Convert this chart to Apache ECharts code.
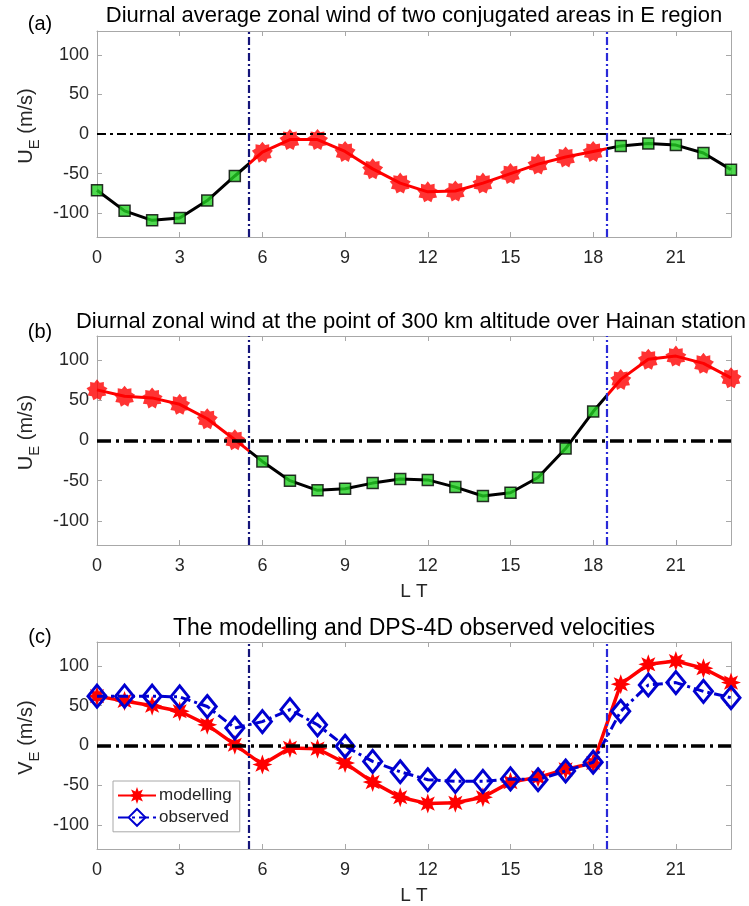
<!DOCTYPE html>
<html><head><meta charset="utf-8">
<script src="https://cdn.jsdelivr.net/npm/echarts@6/dist/echarts.min.js"></script>
<style>html,body{margin:0;padding:0;background:#fff}#c{width:749px;height:906px}</style>
</head><body><div id="c"></div>
<script>
// ---------------- data ----------------
const hours = [0,1,2,3,4,5,6,7,8,9,10,11,12,13,14,15,16,17,18,19,20,21,22,23];
const xTickLabels = [0,3,6,9,12,15,18,21];
const yTickLabels = [-100,-50,0,50,100];
const panelA = [-71,-97,-109,-106,-84,-53,-23,-7,-7,-22,-44,-62,-73,-72,-62,-50,-38,-29,-22,-15,-12,-14,-24,-45];
const panelB = [63,55,53,45,27,1,-26,-50,-62,-60,-53,-48,-49,-58,-69,-65,-46,-10,36,76,101,105,96,78];
const modelling = [62,56,50,43,26,1,-24,-3,-4,-22,-46,-65,-73,-72,-65,-46,-40,-30,-22,77,102,106,97,79];
const observed = [62,62,62,61,49,22,30,45,26,-1,-20,-33,-43,-45,-45,-42,-43,-32,-21,43,76,79,68,60];
const boundaries = [5.5, 18.5];
const titles = [
  'Diurnal average zonal wind of two conjugated areas in E region',
  'Diurnal zonal wind at the point of 300 km altitude over Hainan station',
  'The modelling and DPS-4D observed velocities'
];
const panelTags = ['(a)','(b)','(c)'];
const seriesNames = ['modelling','observed'];

// ---------------- styling ----------------
const FONT = "'Liberation Sans', Arial, Helvetica, sans-serif";
const TXT = '#262626';
const BOX = '#a8a8a8';
const RED = '#ff0000';
const GREEN = '#22d022';
const BLUE = '#0000d0';

function starPath(n, inner) {
  let d = '';
  for (let k = 0; k < 2 * n; k++) {
    const r = (k % 2) ? inner : 1;
    const a = k * Math.PI / n - Math.PI / 2;
    d += (k ? 'L' : 'M') + (r * Math.cos(a)).toFixed(3) + ' ' + (r * Math.sin(a)).toFixed(3) + ' ';
  }
  return 'path://' + d + 'Z';
}
const STAR = starPath(9, 0.74);
const STAR_C = starPath(8, 0.5);

const grids = [
  {left: 97, top: 31, width: 634, height: 206},
  {left: 97, top: 336, width: 634, height: 209},
  {left: 97, top: 642, width: 634, height: 208}
];

const xAxes = [], yAxes = [];
grids.forEach((g, i) => {
  const common = {
    type: 'value', gridIndex: i, min: 0, max: 23, interval: 3,
    axisLine: {show: true, onZero: false, lineStyle: {color: BOX, width: 1}},
    axisTick: {show: true, inside: true, length: 5, lineStyle: {color: BOX}},
    splitLine: {show: false}
  };
  xAxes.push(Object.assign({}, common, {
    position: 'bottom',
    axisLabel: {show: true, margin: 12, color: TXT, fontSize: 18, fontFamily: FONT,
      formatter: v => xTickLabels.indexOf(v) >= 0 ? String(v) : ''},
    name: i > 0 ? 'L T' : '', nameLocation: 'middle', nameGap: 37,
    nameTextStyle: {color: TXT, fontSize: 19, fontFamily: FONT}
  }));
  xAxes.push(Object.assign({}, common, {position: 'top', axisLabel: {show: false}}));
  const yc = {
    type: 'value', gridIndex: i, min: -130, max: 130, splitNumber: 5,
    axisLine: {show: true, onZero: false, lineStyle: {color: BOX, width: 1}},
    axisTick: {show: true, inside: true, length: 5, lineStyle: {color: BOX}},
    splitLine: {show: false}
  };
  const sym = i === 2 ? 'V' : 'U';
  yAxes.push(Object.assign({}, yc, {
    position: 'left',
    axisLabel: {show: true, margin: 8, color: TXT, fontSize: 18, fontFamily: FONT,
      formatter: v => yTickLabels.indexOf(v) >= 0 ? String(v) : ''},
    name: '{u|' + sym + '}{s|E}{u| (m/s)}', nameLocation: 'middle', nameGap: 58,
    nameTextStyle: {
      padding: [0, 0, 0, 16],
      rich: {
        u: {fontSize: 20, fontFamily: FONT, color: TXT, verticalAlign: 'top', lineHeight: 21},
        s: {fontSize: 15, fontFamily: FONT, color: TXT, verticalAlign: 'top', lineHeight: 15, padding: [11, 0, 0, 0]}
      }
    }
  }));
  yAxes.push(Object.assign({}, yc, {position: 'right', axisLabel: {show: false}}));
});

function refLines(zeroWidth, zeroDash) {
  return {
    symbol: 'none', silent: true, animation: false, label: {show: false},
    emphasis: {disabled: true},
    data: [
      {xAxis: boundaries[0], lineStyle: {color: '#15157a', width: 2.2, type: [8, 3, 2, 3]}},
      {xAxis: boundaries[1], lineStyle: {color: '#2a2ad8', width: 2.2, type: [8, 3, 2, 3]}},
      {yAxis: 0, lineStyle: {color: '#000', width: zeroWidth, type: zeroDash}}
    ]
  };
}

const inDay = h => h >= boundaries[0] && h <= boundaries[1];
const pts = (arr, f) => hours.filter(f).map(h => [h, arr[h]]);

const series = [
  // panel a
  {type: 'line', xAxisIndex: 0, yAxisIndex: 0, data: hours.map(h => [h, panelA[h]]),
   showSymbol: false, lineStyle: {width: 3}, z: 2, markLine: refLines(2, [9, 4, 3, 4])},
  {type: 'scatter', xAxisIndex: 0, yAxisIndex: 0, data: pts(panelA, h => !inDay(h)),
   symbol: 'rect', symbolSize: 11, itemStyle: {color: GREEN, borderColor: '#000', borderWidth: 1.5}, z: 4},
  {type: 'scatter', xAxisIndex: 0, yAxisIndex: 0, data: pts(panelA, inDay),
   symbol: STAR, symbolSize: 21, itemStyle: {color: RED}, z: 4},
  // panel b
  {type: 'line', xAxisIndex: 2, yAxisIndex: 2, data: hours.map(h => [h, panelB[h]]),
   showSymbol: false, lineStyle: {width: 3}, z: 2, markLine: refLines(3.5, [14, 5, 3, 5])},
  {type: 'scatter', xAxisIndex: 2, yAxisIndex: 2, data: pts(panelB, inDay),
   symbol: 'rect', symbolSize: 11, itemStyle: {color: GREEN, borderColor: '#000', borderWidth: 1.5}, z: 4},
  {type: 'scatter', xAxisIndex: 2, yAxisIndex: 2, data: pts(panelB, h => !inDay(h)),
   symbol: STAR, symbolSize: 21, itemStyle: {color: RED}, z: 4},
  // panel c
  {name: seriesNames[0], type: 'line', xAxisIndex: 4, yAxisIndex: 4, data: hours.map(h => [h, modelling[h]]),
   symbol: STAR_C, symbolSize: 20, showAllSymbol: true,
   lineStyle: {color: RED, width: 3.5}, itemStyle: {color: RED}, z: 3,
   markLine: refLines(3.5, [14, 5, 3, 5])},
  {name: seriesNames[1], type: 'line', xAxisIndex: 4, yAxisIndex: 4, data: hours.map(h => [h, observed[h]]),
   symbol: 'diamond', symbolSize: [18, 22], showAllSymbol: true,
   lineStyle: {color: BLUE, width: 3, type: [10, 4, 3, 4]},
   itemStyle: {color: 'rgba(255,255,255,0)', borderColor: BLUE, borderWidth: 3}, z: 4}
];

const graphics = [];
const titleX = [414, 411, 414];
const titleY = [16, 322, 629];
const titleSize = [22, 22, 23];
const tagY = [24, 332, 637];
titles.forEach((t, i) => {
  graphics.push({type: 'text', x: titleX[i], y: titleY[i], silent: true,
    style: {text: t, fill: '#000', font: titleSize[i] + 'px ' + FONT, textAlign: 'center', textVerticalAlign: 'middle'}});
  graphics.push({type: 'text', x: 40, y: tagY[i], silent: true,
    style: {text: panelTags[i], fill: '#000', font: '20px ' + FONT, textAlign: 'center', textVerticalAlign: 'middle'}});
});

const chart = echarts.init(document.getElementById('c'), null, {renderer: 'canvas'});
chart.setOption({
  animation: false,
  backgroundColor: '#fff',
  grid: grids,
  xAxis: xAxes,
  yAxis: yAxes,
  visualMap: [
    {type: 'piecewise', show: false, dimension: 0, seriesIndex: 0,
     pieces: [{lt: boundaries[0], color: '#000'}, {gte: boundaries[0], lte: boundaries[1], color: RED}, {gt: boundaries[1], color: '#000'}]},
    {type: 'piecewise', show: false, dimension: 0, seriesIndex: 3,
     pieces: [{lt: boundaries[0], color: RED}, {gte: boundaries[0], lte: boundaries[1], color: '#000'}, {gt: boundaries[1], color: RED}]}
  ],
  legend: {
    data: seriesNames, orient: 'vertical', left: 113, top: 781,
    backgroundColor: '#fff', borderColor: BOX, borderWidth: 1, borderRadius: 0,
    padding: [6, 8, 5, 4], itemGap: 4, itemWidth: 38, itemHeight: 21,
    textStyle: {color: TXT, fontSize: 17, fontFamily: FONT, padding: [0, 0, 0, -2]},
    selectedMode: false
  },
  series: series,
  graphic: graphics
});
</script>
</body></html>
